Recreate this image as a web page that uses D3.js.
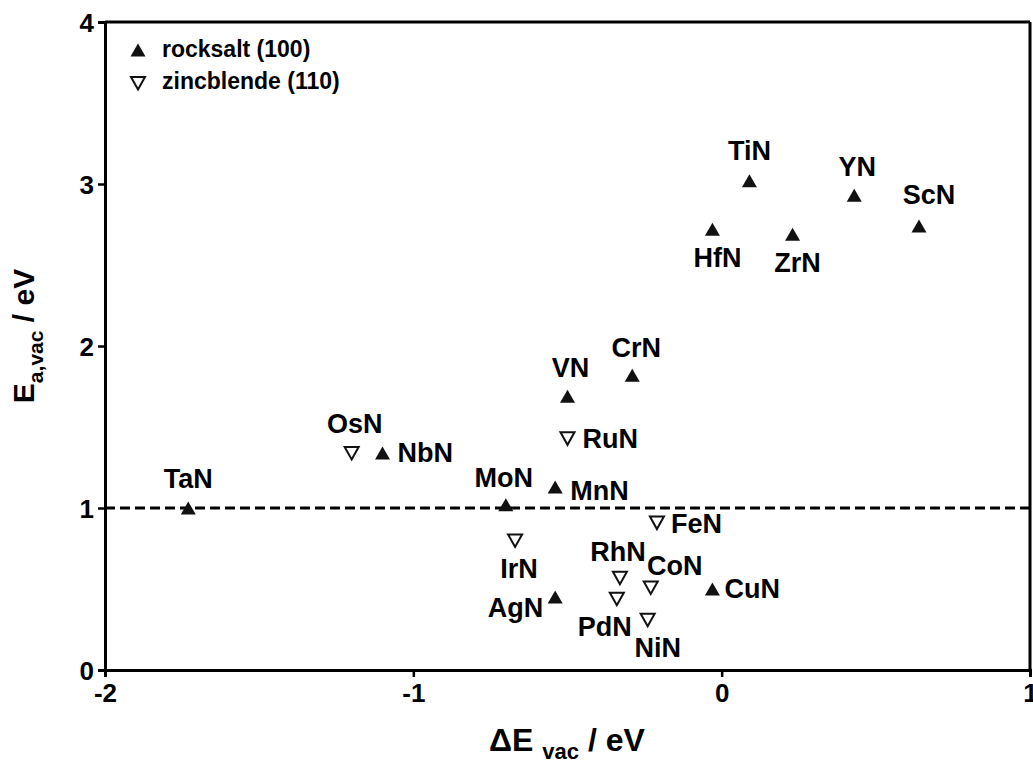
<!DOCTYPE html>
<html>
<head>
<meta charset="utf-8">
<script src="https://cdn.jsdelivr.net/npm/d3@7"></script>
<style>
  body { margin: 0; background: #fff; }
  text { font-family: "Liberation Sans", Arial, sans-serif; font-weight: bold; fill: #000; }
</style>
</head>
<body>
<svg id="chart" width="1033" height="763"></svg>
<script>
// rocksalt (100) surfaces
var rsNames = ["TaN", "NbN", "MoN", "MnN", "VN", "CrN", "AgN", "CuN", "HfN", "TiN", "ZrN", "YN", "ScN"];
var rsDeltaE = [-1.73, -1.10, -0.70, -0.54, -0.50, -0.29, -0.54, -0.03, -0.03, 0.09, 0.23, 0.43, 0.64];
var rsEa = [1.00, 1.34, 1.02, 1.13, 1.69, 1.82, 0.45, 0.50, 2.72, 3.02, 2.69, 2.93, 2.74];

// zincblende (110) surfaces
var zbNames = ["OsN", "RuN", "FeN", "IrN", "RhN", "CoN", "PdN", "NiN"];
var zbDeltaE = [-1.20, -0.50, -0.21, -0.67, -0.33, -0.23, -0.34, -0.24];
var zbEa = [1.34, 1.43, 0.91, 0.80, 0.57, 0.51, 0.44, 0.31];

var xTicks = [-2, -1, 0, 1];
var yTicks = [0, 1, 2, 3, 4];
var refLine = 1;

// label placement relative to the marker: dx, dy (baseline), anchor
var labelPos = {
	TaN: [0, -20, "middle"], NbN: [15, 9, "start"], MoN: [-2, -18, "middle"],
	MnN: [15, 13, "start"], VN: [3, -19, "middle"], CrN: [4, -18, "middle"],
	AgN: [-12, 20, "end"], CuN: [12, 9, "start"], HfN: [5, 38, "middle"],
	TiN: [0, -21, "middle"], ZrN: [5, 38, "middle"], YN: [3, -19, "middle"],
	ScN: [10, -22, "middle"],
	OsN: [3, -20, "middle"], RuN: [15, 10, "start"], FeN: [14, 10, "start"],
	IrN: [4, 38, "middle"], RhN: [-2, -17, "middle"], CoN: [24, -12, "middle"],
	PdN: [-12, 37, "middle"], NiN: [10, 37, "middle"]
};

var svg = d3.select("#chart");

var xScale = d3.scaleLinear().domain([-2, 1]).range([105, 1030]);
var yScale = d3.scaleLinear().domain([0, 4]).range([670, 22]);

// triangle paths
var triUp = "M0,-6.5L7.5,6.5L-7.5,6.5Z";
var triDown = "M-7,-6L7,-6L0,6.5Z";

// frame (top and right)
svg.append("line")
	.attr("x1", xScale(-2)).attr("x2", xScale(1))
	.attr("y1", yScale(4)).attr("y2", yScale(4))
	.attr("stroke", "#000").attr("stroke-width", 3);
svg.append("line")
	.attr("x1", xScale(1)).attr("x2", xScale(1))
	.attr("y1", yScale(0)).attr("y2", yScale(4))
	.attr("stroke", "#000").attr("stroke-width", 3);

// axes (plain hyphen for negatives, like the original)
var xAxis = svg.append("g")
	.attr("transform", "translate(0," + yScale(0) + ")")
	.call(d3.axisBottom(xScale).tickValues(xTicks).tickSize(7).tickPadding(7).tickFormat(d => String(d)));
var yAxis = svg.append("g")
	.attr("transform", "translate(" + xScale(-2) + ",0)")
	.call(d3.axisLeft(yScale).tickValues(yTicks).tickSize(7).tickPadding(4).tickFormat(d => String(d)));

[xAxis, yAxis].forEach(function(ax){
	ax.select(".domain").attr("stroke", "#000").attr("stroke-width", 3);
	ax.selectAll(".tick line").attr("stroke", "#000").attr("stroke-width", 2.5);
	ax.selectAll(".tick text")
		.style("font-family", "'Liberation Sans', Arial, sans-serif")
		.style("font-weight", "bold")
		.style("font-size", "26px")
		.attr("fill", "#000");
});
yAxis.selectAll(".tick text").attr("dy", "0.36em");

// dashed reference line
svg.append("line")
	.attr("x1", xScale(-2)).attr("x2", xScale(1))
	.attr("y1", yScale(refLine)).attr("y2", yScale(refLine))
	.attr("stroke", "#000").attr("stroke-width", 3)
	.attr("stroke-dasharray", "10,5");

// data points
var rsData = rsNames.map(function(n, i){ return {name: n, x: rsDeltaE[i], y: rsEa[i]}; });
var zbData = zbNames.map(function(n, i){ return {name: n, x: zbDeltaE[i], y: zbEa[i]}; });

svg.append("g").selectAll("path")
	.data(rsData).enter().append("path")
	.attr("d", triUp)
	.attr("transform", d => "translate(" + xScale(d.x) + "," + yScale(d.y) + ")")
	.attr("fill", "#111");

svg.append("g").selectAll("path")
	.data(zbData).enter().append("path")
	.attr("d", triDown)
	.attr("transform", d => "translate(" + xScale(d.x) + "," + yScale(d.y) + ")")
	.attr("fill", "#fff")
	.attr("stroke", "#111")
	.attr("stroke-width", 2);

// point labels
svg.append("g").selectAll("text")
	.data(rsData.concat(zbData)).enter().append("text")
	.attr("x", d => xScale(d.x) + labelPos[d.name][0])
	.attr("y", d => yScale(d.y) + labelPos[d.name][1])
	.attr("text-anchor", d => labelPos[d.name][2])
	.style("font-size", "27px")
	.text(d => d.name);

// legend
var legend = svg.append("g").attr("transform", "translate(138,0)");
legend.append("path").attr("d", triUp).attr("transform", "translate(0,50)").attr("fill", "#111");
legend.append("path").attr("d", triDown).attr("transform", "translate(0,83)")
	.attr("fill", "#fff").attr("stroke", "#111").attr("stroke-width", 2);
legend.append("text").attr("x", 24).attr("y", 57).style("font-size", "23px").text("rocksalt (100)");
legend.append("text").attr("x", 24).attr("y", 89).style("font-size", "23px").text("zincblende (110)");

// axis titles
var xTitle = svg.append("text")
	.attr("x", 567).attr("y", 751)
	.attr("text-anchor", "middle")
	.style("font-size", "32px");
xTitle.append("tspan").text("\u0394E ");
xTitle.append("tspan").attr("dy", 8).style("font-size", "22px").text("vac");
xTitle.append("tspan").attr("dy", -8).text(" / eV");

var yTitle = svg.append("text")
	.attr("transform", "translate(34,336) rotate(-90)")
	.attr("text-anchor", "middle")
	.style("font-size", "30px");
yTitle.append("tspan").text("E");
yTitle.append("tspan").attr("dy", 9).style("font-size", "21px").text("a,vac");
yTitle.append("tspan").attr("dy", -9).text(" / eV");
</script>
</body>
</html>
